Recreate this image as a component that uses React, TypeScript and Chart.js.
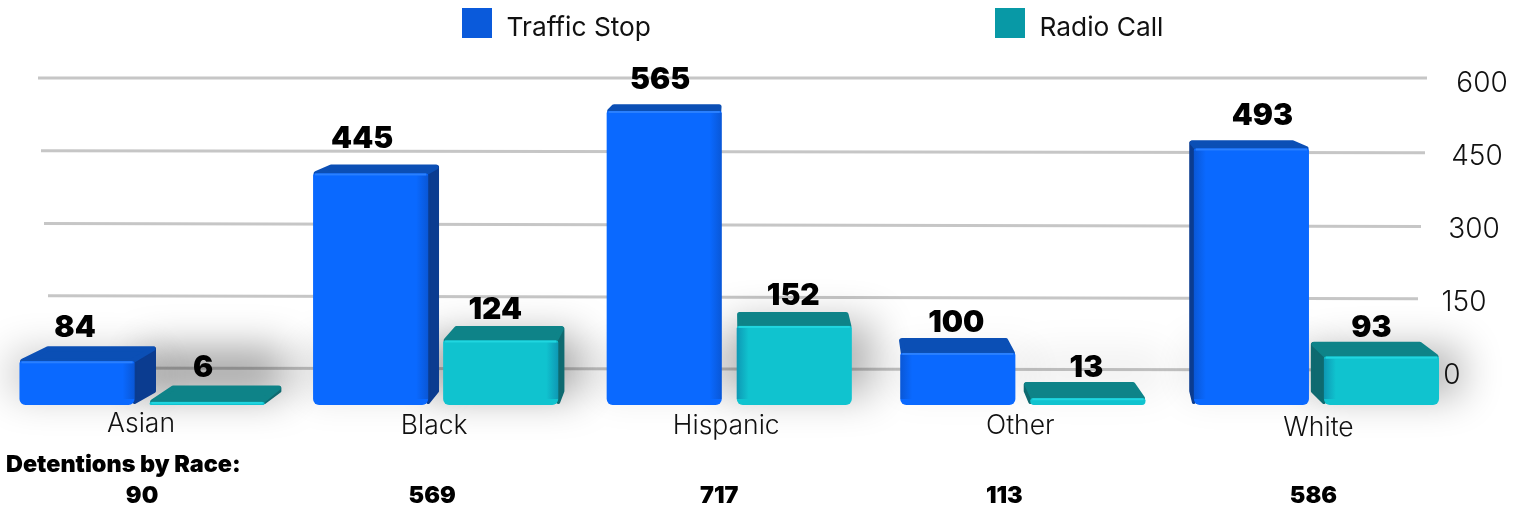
import React, { useEffect, useRef } from "react";
import { Chart, registerables } from "chart.js";

Chart.register(...registerables);

const categories = ["Asian", "Black", "Hispanic", "Other", "White"];
const trafficStop = [84, 445, 565, 100, 493];
const radioCall = [6, 124, 152, 13, 93];
const totals = [90, 569, 717, 113, 586];
const yTicks = [600, 450, 300, 150, 0];
const totalsTitle = "Detentions by Race:";

// drawing styles (x positions are canvas coordinates; the canvas sits 8px left of the page edge)
const FONT = "Inter, 'Noto Sans', sans-serif";
const CANVAS_SHIFT = 8;
const faces = [
  { front: "#0A69FF", top: "#0B4FB5", side: "#0B3C90", key: "#0A5ADB", glow: "#2A80FF" },
  { front: "#10C3CF", top: "#0E8388", side: "#0E6A70", key: "#0899A6", glow: "#20D6E0" },
];
const VANISH_X = 730 + CANVAS_SHIFT;
const gridLeft = [38, 41, 44, 48, 52].map((x) => x + CANVAS_SHIFT);
const gridRight = [1427, 1425, 1421, 1418, 1415].map((x) => x + CANVAS_SHIFT);
const gridSlant = [0, 1, 1.5, 1.5, 1];
const gridDrop = [0, 1, 1.5, 1, 0];
const tickCenter = [1482, 1477, 1474, 1464, 1452].map((x) => x + CANVAS_SHIFT);
const catNudgeX = [-1, -1.5, -3, -2.5, 2];
const catY = [424, 426, 426, 426, 428];
const totalNudgeX = [0, -3.5, -10, -18.5, -3];
const labelNudgeX = [[-2, -8.5, -4, -1.5, 11], [-4, -5.5, -1, -1.5, -10]];
const labelNudgeY = [[-33, -34, -31, -30, -32], [-34, -30.5, -30, -30, -29]];
const shadowAlpha = [[0.24, 0.14, 0.1, 0.06, 0.1], [0.38, 0.38, 0.3, 0.06, 0.32]];
const legendX = [462, 995].map((x) => x + CANVAS_SHIFT);

const backX = (x: number, d: number, isLeftEdge: boolean) => {
  if (x <= VANISH_X) return x + 0.036 * (VANISH_X - x);
  const k = isLeftEdge ? (d === 0 ? 0.01 : 0.022) : 0.023;
  return x - k * (x - VANISH_X);
};
const depthOf = (y: number) => 7 + 0.033 * (y - 100);

const depthPlugin = {
  id: "depth",
  beforeDatasetsDraw(chart: any) {
    const { ctx } = chart;
    const gs = chart.scales.yGrid;
    const bars = chart.data.datasets.flatMap((_: any, d: number) =>
      chart.getDatasetMeta(d).data.map((b: any, i: number) => ({ b, d, i }))
    );
    // gridlines
    ctx.save();
    ctx.strokeStyle = "#c6c6c6";
    ctx.lineWidth = 3;
    yTicks.forEach((t, i) => {
      const y = gs.getPixelForValue(t) + gridDrop[i];
      ctx.beginPath();
      ctx.moveTo(gridLeft[i], y - gridSlant[i]);
      ctx.lineTo(gridRight[i], y + gridSlant[i]);
      ctx.stroke();
    });
    ctx.restore();
    // soft floor shadows
    ctx.save();
    bars.forEach(({ b, d, i }: any) => {
      const x0 = b.x - b.width / 2;
      const x1 = b.x + b.width / 2;
      const top = d === 1 ? Math.min(b.y, b.base - 52) - 4 : Math.max(b.y - 8, b.base - 62);
      ctx.shadowColor = `rgba(0,0,0,${shadowAlpha[d][i]})`;
      ctx.shadowBlur = 40;
      ctx.shadowOffsetX = 4000;
      ctx.fillStyle = "#000";
      ctx.fillRect(x0 - 4000 - 8, top, x1 - x0 + 30, b.base - top - 10);
    });
    ctx.restore();
    // top and side faces
    bars.forEach(({ b, d }: any) => {
      const x0 = b.x - b.width / 2;
      const x1 = b.x + b.width / 2;
      const depth = depthOf(b.y);
      const sideX = x0 < VANISH_X ? x1 : x0;
      const sideBack = backX(sideX, d, sideX === x0);
      ctx.save();
      ctx.lineJoin = "round";
      if (Math.abs(sideBack - sideX) > 4) {
        ctx.lineWidth = 4;
        ctx.fillStyle = faces[d].side;
        ctx.strokeStyle = faces[d].side;
        const inset = sideBack > sideX ? -2 : 2;
        const lowEnd = Math.max(b.base - 14, b.y - depth + 3);
        ctx.beginPath();
        ctx.moveTo(sideX, b.y);
        ctx.lineTo(sideBack + inset, b.y - depth + 3);
        ctx.lineTo(sideBack + inset, lowEnd);
        ctx.lineTo(sideX, Math.max(b.base - 3, b.y));
        ctx.closePath();
        ctx.fill();
        ctx.stroke();
      }
      ctx.lineWidth = 5;
      ctx.fillStyle = faces[d].top;
      ctx.strokeStyle = faces[d].top;
      ctx.beginPath();
      ctx.moveTo(x0 + 3, b.y);
      ctx.lineTo(backX(x0, d, true) + 3, b.y - depth + 3);
      ctx.lineTo(backX(x1, d, false) - 3, b.y - depth + 3);
      ctx.lineTo(x1 - 3, b.y);
      ctx.closePath();
      ctx.fill();
      ctx.stroke();
      ctx.restore();
    });
  },
  afterDatasetsDraw(chart: any) {
    const { ctx } = chart;
    const xs = chart.scales.x;
    const gs = chart.scales.yGrid;
    ctx.save();
    // highlight along the front top edge, shading along the outer edge
    chart.data.datasets.forEach((_: any, d: number) => {
      chart.getDatasetMeta(d).data.forEach((b: any) => {
        const x0 = b.x - b.width / 2;
        const x1 = b.x + b.width / 2;
        const h = b.base - b.y;
        if (h > 12) {
          const onRight = x1 > VANISH_X;
          const ex = onRight ? x0 : x1;
          const g = ctx.createLinearGradient(ex, 0, onRight ? ex + 12 : ex - 12, 0);
          g.addColorStop(0, "rgba(8,40,110,0.28)");
          g.addColorStop(1, "rgba(8,40,110,0)");
          ctx.fillStyle = g;
          ctx.fillRect(onRight ? ex : ex - 12, b.y + 2, 12, h - 8);
        }
        ctx.fillStyle = faces[d].glow;
        ctx.fillRect(x0 + 2, b.y, b.width - 4, Math.min(2, h));
      });
    });
    ctx.textBaseline = "middle";
    // value labels
    ctx.fillStyle = "#000";
    ctx.textAlign = "center";
    ctx.font = `900 30px ${FONT}`;
    chart.data.datasets.forEach((ds: any, d: number) => {
      chart.getDatasetMeta(d).data.forEach((b: any, i: number) => {
        ctx.fillText(String(ds.data[i]), b.x + labelNudgeX[d][i], b.y + labelNudgeY[d][i]);
      });
    });
    // legend
    chart.data.datasets.forEach((ds: any, d: number) => {
      ctx.fillStyle = faces[d].key;
      ctx.fillRect(legendX[d], 8, 30, 30);
      ctx.fillStyle = "#111";
      ctx.textAlign = "left";
      ctx.font = `400 26.3px ${FONT}`;
      ctx.fillText(ds.label, legendX[d] + 44.5, 28);
    });
    // value axis labels
    ctx.fillStyle = "#111";
    ctx.textAlign = "center";
    ctx.font = `300 28px ${FONT}`;
    yTicks.forEach((t, i) => {
      ctx.fillText(String(t), tickCenter[i], gs.getPixelForValue(t) + 6);
    });
    // category labels
    ctx.font = `300 26.5px ${FONT}`;
    categories.forEach((c, i) => {
      ctx.fillText(c, xs.getPixelForValue(i) + catNudgeX[i], catY[i]);
    });
    // totals
    ctx.fillStyle = "#000";
    ctx.font = `900 23.4px ${FONT}`;
    ctx.textAlign = "left";
    ctx.fillText(totalsTitle, 6 + CANVAS_SHIFT, 465);
    ctx.textAlign = "center";
    totals.forEach((t, i) => {
      ctx.fillText(String(t), xs.getPixelForValue(i) + totalNudgeX[i], 496);
    });
    ctx.restore();
  },
};

export default function App() {
  const ref = useRef<HTMLCanvasElement>(null);
  useEffect(() => {
    const chart = new Chart(ref.current as HTMLCanvasElement, {
      type: "bar",
      data: {
        labels: categories,
        datasets: [
          { label: "Traffic Stop", data: trafficStop, backgroundColor: faces[0].front },
          { label: "Radio Call", data: radioCall, backgroundColor: faces[1].front },
        ].map((d) => ({
          ...d,
          yAxisID: "y",
          categoryPercentage: 0.886,
          barPercentage: 0.885,
          borderRadius: { topLeft: 2, topRight: 2, bottomLeft: 6, bottomRight: 6 },
          borderSkipped: false,
        })),
      },
      options: {
        responsive: false,
        animation: false,
        layout: { padding: { left: 3.25, right: 61.75, top: 60, bottom: 107 } },
        plugins: { legend: { display: false }, tooltip: { enabled: false } },
        scales: {
          x: { display: false, grid: { display: false } },
          y: { display: false, min: 0, max: 663 },
          yGrid: { display: false, min: -74, max: 637 },
        },
      },
      plugins: [depthPlugin],
    } as any);
    return () => chart.destroy();
  }, []);
  return (
    <div style={{ position: "fixed", left: 0, top: 0, width: 1525, height: 512, background: "#fff", overflow: "hidden" }}>
      <canvas
        ref={ref}
        width={1525 + CANVAS_SHIFT}
        height={512}
        style={{ display: "block", position: "absolute", left: -CANVAS_SHIFT, top: 0 }}
      />
    </div>
  );
}
